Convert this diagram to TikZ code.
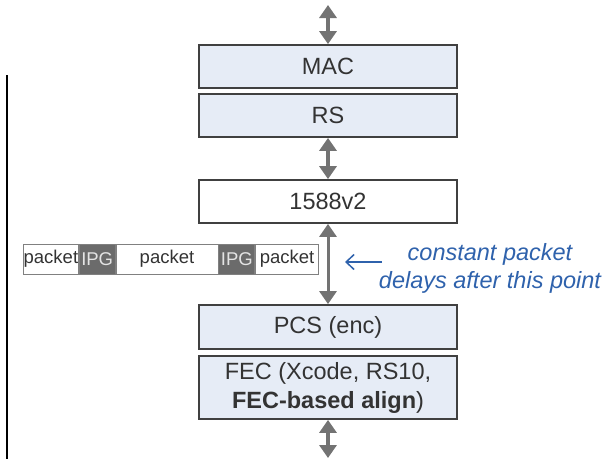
\documentclass[tikz,border=0pt]{standalone}
\usepackage{fontspec}
\setmainfont{Liberation Sans}
\usetikzlibrary{arrows.meta}
\definecolor{layerfill}{HTML}{E6ECF6}
\definecolor{boxline}{HTML}{404040}
\definecolor{textgray}{HTML}{333333}
\definecolor{arrowgray}{HTML}{737373}
\definecolor{ipgfill}{HTML}{6B6B6B}
\definecolor{ipgtext}{HTML}{E4E4E4}
\definecolor{stripline}{HTML}{808080}
\definecolor{noteblue}{HTML}{2F62AC}
\begin{document}
\begin{tikzpicture}[x=1pt,y=-1pt,
  layer/.style={draw=boxline, line width=1.8pt, fill=layerfill, text=textgray,
    minimum width=258pt, inner sep=0pt, align=center,
    font=\fontsize{23.5}{29}\selectfont},
  plainlayer/.style={layer, fill=white},
  biarrow/.style={draw=arrowgray, line width=4pt,
    {Triangle[length=13pt,width=17pt]}-{Triangle[length=13pt,width=17pt]}},
  seg/.style={draw=stripline, line width=0.8pt, fill=white, text=textgray,
    minimum height=30pt, inner sep=0pt, anchor=west,
    font=\fontsize{18.5}{22}\selectfont},
  ipg/.style={seg, fill=ipgfill, text=ipgtext},
  note/.style={text=noteblue, align=center, inner sep=0pt,
    font=\fontsize{23.5}{28}\selectfont\itshape}
]
\useasboundingbox (0,0) rectangle (611,459);

% protocol stack
\node[layer, minimum height=43pt] (mac) at (328,66.5) {MAC};
\node[layer, minimum height=43pt] (rs) at (328,115.5) {RS};
\node[plainlayer, minimum height=43pt] (ptp) at (328,201.5) {1588v2};
\node[layer, minimum height=44pt] (pcs) at (328,327) {PCS (enc)};
\node[layer, minimum height=63pt] (fec) at (328,387.5)
  {FEC (Xcode, RS10,\\\textbf{FEC-based align})};

% interfaces between layers
\coordinate (topend) at (328,5);
\coordinate (botend) at (328,458);
\draw[biarrow] (topend) -- (mac.north);
\draw[biarrow] (rs.south) -- (ptp.north);
\draw[biarrow, line width=3pt] (ptp.south) -- (pcs.north);
\draw[biarrow] (fec.south) -- (botend);

% packet stream
\node[seg, minimum width=55pt] (p1) at (23,259) {packet};
\node[ipg, minimum width=36pt] (g1) at (p1.east) {IPG};
\node[seg, minimum width=102pt] (p2) at (g1.east) {packet};
\node[ipg, minimum width=36pt] (g2) at (p2.east) {IPG};
\node[seg, minimum width=63pt] (p3) at (g2.east) {packet};

% annotation
\node[note] (txt) at (490,268) {constant packet\\delays after this point};
\coordinate (notestart) at (382,262);
\coordinate (notetip) at (345,262);
\draw[noteblue, line width=1.5pt, -{Straight Barb[length=8pt,width=15pt]}]
  (notestart) -- (notetip);

% side rule
\coordinate (ruletop) at (7,75);
\coordinate (rulebot) at (7,459);
\draw[line width=1.8pt] (ruletop) -- (rulebot);
\end{tikzpicture}
\end{document}
